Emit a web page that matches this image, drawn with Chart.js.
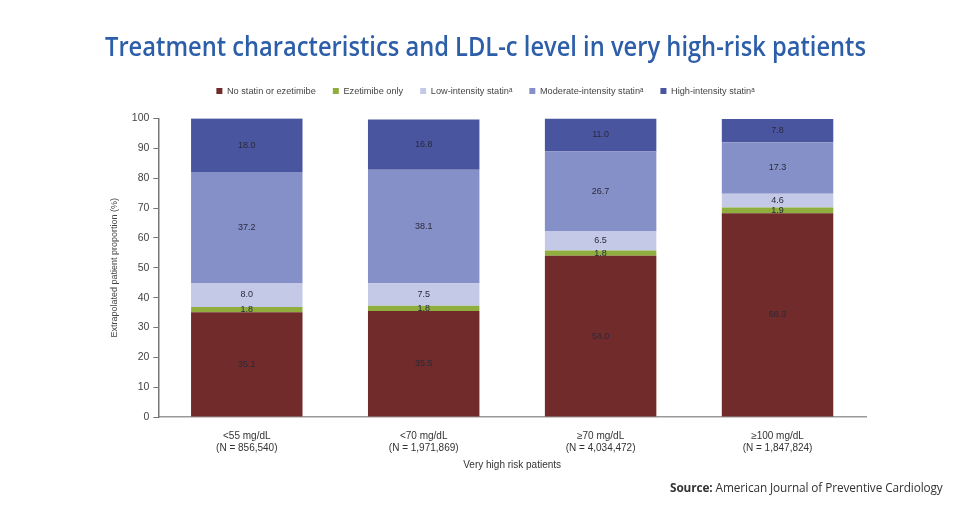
<!DOCTYPE html>
<html>
<head>
<meta charset="utf-8">
<script src="https://cdn.jsdelivr.net/npm/chart.js@4"></script>
<style>
  html, body { margin: 0; padding: 0; background: #fff; }
  #wrap { position: relative; width: 968px; height: 511px; }
  #source { position: absolute; left: 670px; top: 479px; font-family: "Open Sans", sans-serif; font-size: 11.8px; color: #333; letter-spacing: -0.1px; }
</style>
</head>
<body>
<div id="wrap">
  <canvas id="chart" width="968" height="511"></canvas>
  <div id="source"><b>Source:</b> American Journal of Preventive Cardiology</div>
</div>
<script>
//data
const categories = [
    ['<55 mg/dL', '(N = 856,540)'],
    ['<70 mg/dL', '(N = 1,971,869)'],
    ['≥70 mg/dL', '(N = 4,034,472)'],
    ['≥100 mg/dL', '(N = 1,847,824)']
];
const noStatin = [35.1, 35.5, 54.0, 68.3];
const ezetimibeOnly = [1.8, 1.8, 1.8, 1.9];
const lowIntensity = [8.0, 7.5, 6.5, 4.6];
const moderateIntensity = [37.2, 38.1, 26.7, 17.3];
const highIntensity = [18.0, 16.8, 11.0, 7.8];
const yTicks = [0, 10, 20, 30, 40, 50, 60, 70, 80, 90, 100];

//labels inside the bars
const segmentLabels = {
    id: 'segmentLabels',
    afterDatasetsDraw(chart) {
        const ctx = chart.ctx;
        ctx.save();
        ctx.font = '9px "Liberation Sans", Arial, sans-serif';
        ctx.fillStyle = '#2a2a3a';
        ctx.textAlign = 'center';
        ctx.textBaseline = 'middle';
        chart.data.datasets.forEach((ds, i) => {
            chart.getDatasetMeta(i).data.forEach((bar, j) => {
                const mid = (bar.y + bar.base) / 2;
                ctx.fillText(ds.data[j].toFixed(1), bar.x, mid);
            });
        });
        ctx.restore();
    }
};

//extra room under the legend
const legendGap = {
    id: 'legendGap',
    beforeInit(chart) {
        const fit = chart.legend.fit;
        chart.legend.fit = function () {
            fit.bind(chart.legend)();
            this.height += 13;
        };
    }
};

//setup
const data = {
    labels: categories,
    datasets: [
        { label: 'No statin or ezetimibe', data: noStatin, backgroundColor: '#722b2b' },
        { label: 'Ezetimibe only', data: ezetimibeOnly, backgroundColor: '#8fae3e' },
        { label: 'Low-intensity statin\u1D43', data: lowIntensity, backgroundColor: '#c3c9e6' },
        { label: 'Moderate-intensity statin\u1D43', data: moderateIntensity, backgroundColor: '#8690c8' },
        { label: 'High-intensity statin\u1D43', data: highIntensity, backgroundColor: '#4a559f' }
    ]
};

//options
const options = {
    responsive: false,
    animation: false,
    layout: { padding: { left: 105, right: 102, top: 0, bottom: 36 } },
    datasets: { bar: { categoryPercentage: 0.63, barPercentage: 1.0 } },
    plugins: {
        title: {
            display: true,
            text: 'Treatment characteristics and LDL-c level in very high-risk patients',
            color: '#2d5ea8',
            font: { family: '"Open Sans", sans-serif', size: 27, weight: '600' },
            padding: { top: 32, bottom: 5 }
        },
        legend: {
            labels: {
                boxWidth: 6,
                boxHeight: 6,
                padding: 17,
                color: '#444',
                font: { family: '"Liberation Sans", Arial, sans-serif', size: 9.2 }
            }
        },
        tooltip: { enabled: false }
    },
    scales: {
        x: {
            stacked: true,
            grid: { display: false },
            border: { color: '#999', width: 1.5 },
            ticks: { color: '#333', padding: 5, font: { family: '"Liberation Sans", Arial, sans-serif', size: 10 } },
            title: { display: true, text: 'Very high risk patients', color: '#333',
                font: { family: '"Liberation Sans", Arial, sans-serif', size: 10 }, padding: { top: 0 } }
        },
        y: {
            stacked: true,
            min: 0,
            max: 100,
            afterBuildTicks: axis => { axis.ticks = yTicks.map(v => ({ value: v })); },
            grid: { display: true, drawOnChartArea: false, drawTicks: true, tickLength: 5, color: '#777' },
            border: { color: '#777', width: 1.5 },
            ticks: { color: '#444', padding: 4, font: { family: '"Liberation Sans", Arial, sans-serif', size: 10.5 } },
            title: { display: true, text: 'Extrapolated patient proportion (%)', color: '#444',
                font: { family: '"Liberation Sans", Arial, sans-serif', size: 9 }, padding: { bottom: 8 } }
        }
    }
};

//render init
const chart = new Chart(document.getElementById('chart'), {
    type: 'bar',
    data: data,
    options,
    plugins: [segmentLabels, legendGap]
});
</script>
</body>
</html>
